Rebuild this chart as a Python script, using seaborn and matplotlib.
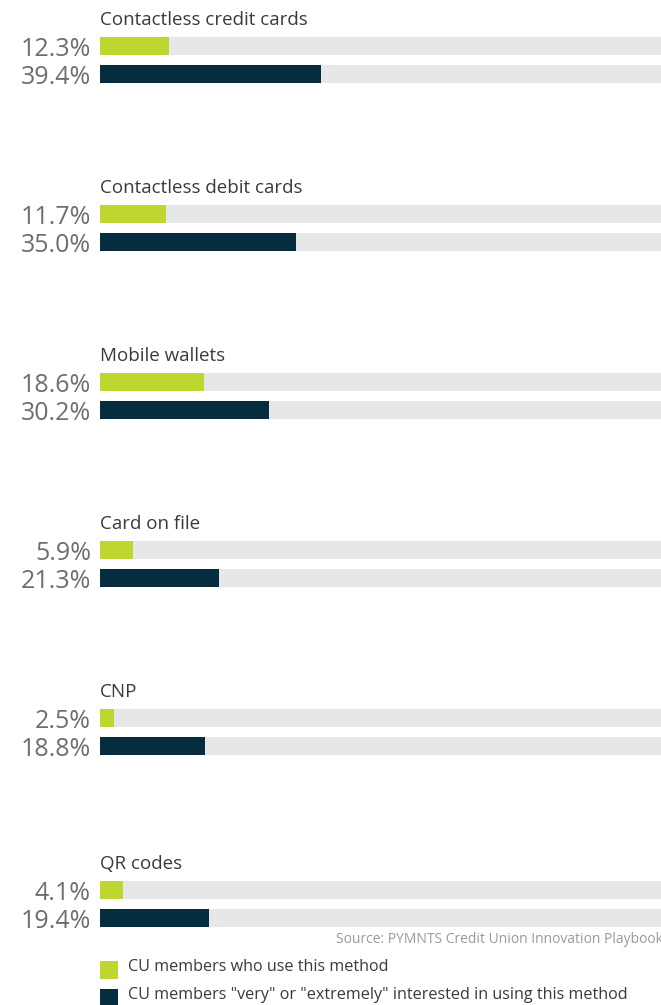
import matplotlib
matplotlib.use("Agg")
import matplotlib.pyplot as plt
from matplotlib.patches import Rectangle
import pandas as pd
import seaborn as sns

# Payment methods and survey shares (%)
methods = ["Contactless credit cards", "Contactless debit cards", "Mobile wallets",
           "Card on file", "CNP", "QR codes"]
use_share = [12.3, 11.7, 18.6, 5.9, 2.5, 4.1]
interest_share = [39.4, 35.0, 30.2, 21.3, 18.8, 19.4]
series_labels = ["CU members who use this method",
                 "CU members \"very\" or \"extremely\" interested in using this method"]
source_note = "Source: PYMNTS Credit Union Innovation Playbook"

GREEN = "#bfd631"
NAVY = "#052d3e"
TRACK = "#e6e7e8"
LABEL_GREY = "#6d6e71"
TEXT_DARK = "#3a3a3c"

sns.set_theme(style="white")
plt.rcParams["font.family"] = ["Open Sans", "DejaVu Sans"]

W, H = 661, 1005
DPI = 100
fig = plt.figure(figsize=(W / DPI, H / DPI), dpi=DPI)

left_px, right_px = 100, 661
row_px = 28          # centre-to-centre distance of the two bars
first_centres = [46, 214, 382, 550, 718, 890]

for i, method in enumerate(methods):
    c1 = first_centres[i]
    top = c1 - row_px / 2
    height = 2 * row_px
    ax = fig.add_axes([left_px / W, 1 - (top + height) / H,
                       (right_px - left_px) / W, height / H])
    df = pd.DataFrame({
        "series": series_labels,
        "share": [use_share[i], interest_share[i]],
        "track": [100, 100],
    })
    sns.barplot(data=df, y="series", x="track", orient="h", color=TRACK,
                width=0.62, saturation=1, linewidth=0, ax=ax)
    sns.barplot(data=df, y="series", x="share", orient="h", hue="series",
                palette=[GREEN, NAVY], width=0.62, saturation=1,
                linewidth=0, legend=False, ax=ax)
    ax.set_xlim(0, 100)
    ax.set_ylim(1.5, -0.5)
    ax.axis("off")

    ax.text(0, -0.75, method, ha="left", va="baseline", fontsize=13.5,
            color=TEXT_DARK, transform=ax.transData)
    for j, v in enumerate(df["share"]):
        ax.annotate(f"{v:.1f}%", xy=(0, j), xycoords=("axes fraction", "data"),
                    xytext=(-6.5, -0.5), textcoords="offset points",
                    ha="right", va="center_baseline", fontsize=18,
                    color=LABEL_GREY)

fig.text(663 / W, 1 - 939 / H, source_note, ha="right", va="center",
         fontsize=10, color="#9a9a9a")

# Legend: colour squares with their series labels
for k, (col, lab) in enumerate(zip([GREEN, NAVY], series_labels)):
    sq_top = 961 + 28 * k
    fig.patches.append(Rectangle((100 / W, 1 - (sq_top + 18) / H), 18 / W, 18 / H,
                                 transform=fig.transFigure, facecolor=col,
                                 edgecolor="none"))
    fig.text(128 / W, 1 - (sq_top + 6) / H, lab, ha="left", va="center",
             fontsize=11.6, color=TEXT_DARK)

fig.savefig("out.png", dpi=DPI)
